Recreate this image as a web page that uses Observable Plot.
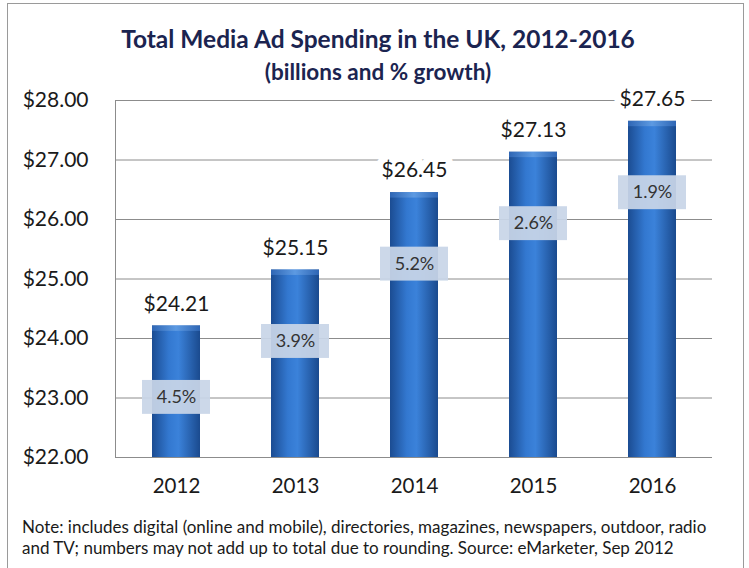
<!DOCTYPE html>
<html>
<head>
<meta charset="utf-8">
<script src="https://cdn.jsdelivr.net/npm/d3@7"></script>
<script src="https://cdn.jsdelivr.net/npm/@observablehq/plot@0.6"></script>
<style>
  html, body { margin: 0; padding: 0; background: #fff; }
  #wrap { position: relative; width: 749px; height: 568px; overflow: hidden; font-family: Lato, "Open Sans", sans-serif; }
  #border { position: absolute; left: 7px; top: 3px; width: 737px; height: 600px; border: 1px solid #9a9a9a; box-sizing: border-box; }
  #title { position: absolute; left: 0; width: 756px; top: 24px; text-align: center; font-weight: bold; font-size: 24.5px; color: #1b2450; white-space: nowrap; }
  #subtitle { position: absolute; left: 0; width: 756px; top: 58px; text-align: center; font-weight: bold; font-size: 22.5px; color: #1b2450; white-space: nowrap; }
  #chart { position: absolute; left: 0; top: 0; }
  #note { position: absolute; left: 22px; top: 516px; width: 727px; font-size: 17px; line-height: 21px; color: #1a1a1a; white-space: nowrap; }
</style>
</head>
<body>
<div id="wrap">
  <div id="border"></div>
  <div id="chart"></div>
  <div id="title">Total Media Ad Spending in the UK, 2012-2016</div>
  <div id="subtitle">(billions and % growth)</div>
  <div id="note">Note: includes digital (online and mobile), directories, magazines, newspapers, outdoor, radio<br>and TV; numbers may not add up to total due to rounding. Source: eMarketer, Sep 2012</div>
</div>
<script>
const years = ["2012", "2013", "2014", "2015", "2016"];
const spending = [24.21, 25.15, 26.45, 27.13, 27.65];
const growth = ["4.5%", "3.9%", "5.2%", "2.6%", "1.9%"];
const yTicks = [22, 23, 24, 25, 26, 27, 28];

const data = years.map((year, i) => ({ year, value: spending[i], growth: growth[i] }));
const base = yTicks[0];
const labelDrop = 1.2;    // growth box sits this far below bar top (data units)
const boxHalf = 0.285;

const chart = Plot.plot({
  width: 749,
  height: 568,
  marginLeft: 115,
  marginRight: 37,
  marginTop: 100,
  marginBottom: 111,
  style: { fontFamily: "Lato, 'Open Sans', sans-serif", color: "#1a1a1a", background: "transparent" },
  x: { domain: years, paddingInner: 0.6, paddingOuter: 0.3, label: null },
  y: { domain: [yTicks[0], yTicks[yTicks.length - 1]], label: null },
  marks: [
    Plot.ruleY(yTicks.slice(1), { stroke: "#8c8c8c", strokeWidth: 1 }),
    Plot.ruleY([base], { stroke: "#8c8c8c", strokeWidth: 1 }),
    Plot.frame({ anchor: "left", stroke: "#8c8c8c" }),
    Plot.barY(data, { x: "year", y1: () => base, y2: "value", fill: "url(#barGrad)" }),
    Plot.barY(data, { x: "year", y1: d => d.value - 0.09, y2: "value", fill: "url(#capGrad)" }),
    Plot.rect(data, {
      x: "year", y1: d => d.value - labelDrop - boxHalf, y2: d => d.value - labelDrop + boxHalf,
      insetLeft: -10, insetRight: -10, fill: "#c8d5e7", fillOpacity: 0.93
    }),
    Plot.text(data, { x: "year", y: d => d.value - labelDrop, text: "growth", fontSize: 18, fill: "#333" }),
    Plot.text(data, {
      x: "year", y: "value", text: d => "$" + d.value.toFixed(2), dy: -22, fontSize: 21,
      fill: "#1a1a1a", stroke: "white", strokeWidth: 14
    }),
    Plot.axisY({ ticks: yTicks, tickFormat: d => "$" + d.toFixed(2), tickSize: 0, tickPadding: 27, fontSize: 21 }),
    Plot.axisX({ tickSize: 0, tickPadding: 21, fontSize: 20.5 })
  ]
});

const svg = d3.select(chart);
const defs = svg.insert("defs", ":first-child");
const g = defs.append("linearGradient").attr("id", "barGrad").attr("x1", "0").attr("x2", "1").attr("y1", "0").attr("y2", "0");
g.append("stop").attr("offset", "0%").attr("stop-color", "#1b4c92");
g.append("stop").attr("offset", "35%").attr("stop-color", "#3378d0");
g.append("stop").attr("offset", "55%").attr("stop-color", "#3b82da");
g.append("stop").attr("offset", "100%").attr("stop-color", "#1a4a8e");
const c = defs.append("linearGradient").attr("id", "capGrad").attr("x1", "0").attr("x2", "1").attr("y1", "0").attr("y2", "0");
c.append("stop").attr("offset", "0%").attr("stop-color", "#2f66b4");
c.append("stop").attr("offset", "50%").attr("stop-color", "#5d9ae2");
c.append("stop").attr("offset", "100%").attr("stop-color", "#2f66b4");

document.getElementById("chart").appendChild(chart);
</script>
</body>
</html>
